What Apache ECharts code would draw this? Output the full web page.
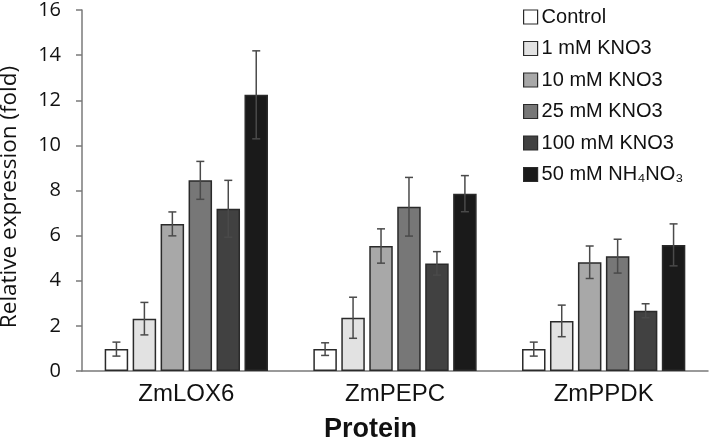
<!DOCTYPE html>
<html>
<head>
<meta charset="utf-8">
<script src="https://cdn.jsdelivr.net/npm/echarts@6/dist/echarts.min.js"></script>
<style>html,body{margin:0;padding:0;background:#fff}#c{width:709px;height:441px}</style>
</head>
<body>
<div id="c"></div>
<script>
const categories = ['ZmLOX6', 'ZmPEPC', 'ZmPPDK'];
const seriesNames = ['Control', '1 mM KNO3', '10 mM KNO3', '25 mM KNO3', '100 mM KNO3', '50 mM NH\u2084NO\u2083'];
const seriesColors = ['#ffffff', '#e2e2e2', '#a8a8a8', '#777777', '#414141', '#1a1a1a'];
const control = [0.97, 0.97, 0.97];
const controlErr = [0.31, 0.28, 0.31];
const kno3_1 = [2.32, 2.36, 2.22];
const kno3_1Err = [0.72, 0.91, 0.70];
const kno3_10 = [6.52, 5.54, 4.82];
const kno3_10Err = [0.53, 0.76, 0.72];
const kno3_25 = [8.45, 7.28, 5.09];
const kno3_25Err = [0.84, 1.30, 0.75];
const kno3_100 = [7.19, 4.77, 2.67];
const kno3_100Err = [1.26, 0.52, 0.31];
const nh4no3_50 = [12.24, 7.86, 5.59];
const nh4no3_50Err = [1.95, 0.80, 0.93];
const yTicks = [0, 2, 4, 6, 8, 10, 12, 14, 16];

const values = [control, kno3_1, kno3_10, kno3_25, kno3_100, nh4no3_50];
const errors = [controlErr, kno3_1Err, kno3_10Err, kno3_25Err, kno3_100Err, nh4no3_50Err];

const BAR_W = 0.1126, BAR_GAP = 0.19;
const n = seriesNames.length;

const series = [];
values.forEach((vals, i) => {
  series.push({
    name: seriesNames[i],
    type: 'bar',
    data: vals,
    barWidth: (BAR_W * 100) + '%',
    barGap: (BAR_GAP * 100) + '%',
    itemStyle: { color: seriesColors[i], borderColor: '#2a2a2a', borderWidth: 1.5 },
    emphasis: { disabled: true },
    z: 2
  });
});
values.forEach((vals, i) => {
  series.push({
    type: 'custom',
    z: 5,
    silent: true,
    data: vals.map((v, k) => [k, v, errors[i][k]]),
    renderItem: function (params, api) {
      const k = api.value(0), v = api.value(1), e = api.value(2);
      const band = api.size([1, 0])[0];
      const off = (i - (n - 1) / 2) * band * BAR_W * (1 + BAR_GAP);
      const top = api.coord([k, v + e]);
      const bot = api.coord([k, v - e]);
      const x = top[0] + off;
      const cap = 4;
      const style = { stroke: '#4a4a4a', lineWidth: 1.5, fill: null };
      return {
        type: 'group',
        children: [
          { type: 'line', shape: { x1: x, y1: top[1], x2: x, y2: bot[1] }, style: style },
          { type: 'line', shape: { x1: x - cap, y1: top[1], x2: x + cap, y2: top[1] }, style: style },
          { type: 'line', shape: { x1: x - cap, y1: bot[1], x2: x + cap, y2: bot[1] }, style: style }
        ]
      };
    }
  });
});

const chart = echarts.init(document.getElementById('c'), null, { renderer: 'canvas' });
chart.setOption({
  animation: false,
  backgroundColor: '#ffffff',
  grid: { left: 82, right: 1, top: 10, bottom: 70, containLabel: false, outerBoundsMode: 'none' },
  legend: {
    data: seriesNames,
    orient: 'vertical',
    left: 518,
    top: 2,
    icon: 'rect',
    itemWidth: 14,
    itemHeight: 14,
    itemGap: 11.5,
    itemStyle: { borderColor: '#2a2a2a', borderWidth: 1.2 },
    textStyle: { fontFamily: 'Liberation Sans', fontSize: 20, color: '#111', padding: [0, 0, 0, -1] }
  },
  xAxis: {
    type: 'category',
    data: categories,
    axisLine: { show: true, lineStyle: { color: '#7a7a7a', width: 1.5 } },
    axisTick: { show: false },
    axisLabel: { fontFamily: 'Liberation Sans', fontSize: 24, color: '#111', margin: 11 },
    splitLine: { show: false }
  },
  yAxis: {
    type: 'value',
    min: yTicks[0],
    max: yTicks[yTicks.length - 1],
    interval: yTicks[1] - yTicks[0],
    axisLine: { show: true, lineStyle: { color: '#7a7a7a', width: 1.5 } },
    axisTick: { show: true, inside: false, length: 6, lineStyle: { color: '#7a7a7a', width: 1.5 } },
    axisLabel: { fontFamily: 'Open Sans', fontSize: 20, color: '#111', margin: 21 },
    splitLine: { show: false }
  },
  graphic: [{
    type: 'text',
    x: 10,
    y: 197,
    rotation: Math.PI / 2,
    style: { text: 'Relative expression (fold)', fontFamily: 'Open Sans', fontSize: 22.5, fill: '#111', textAlign: 'center', textVerticalAlign: 'middle' }
  }, {
    type: 'text',
    left: 324,
    top: 416,
    style: { text: 'Protein', fontFamily: 'Liberation Sans', fontWeight: 'bold', fontSize: 27, fill: '#111' }
  }],
  series: series
});
</script>
</body>
</html>
